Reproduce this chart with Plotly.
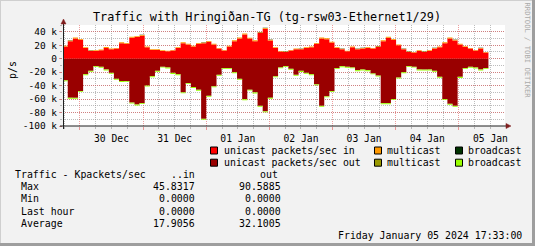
import pandas as pd
import plotly.graph_objects as go

# ---------------- data (k packets/sec, 117-minute samples) ----------------
sample_start = "2023-12-29 17:24"
sample_minutes = 117

in_unicast = [
    18, 26, 30, 28, 16, 11.5, 11.5, 12.5, 16, 14,
    15, 23, 22, 31, 32, 34, 17, 13, 13, 11.5,
    11, 12, 16, 23, 21, 18, 22, 23, 25, 21,
    15, 12, 18, 26, 30, 36, 30, 26, 38, 44.5,
    27, 16, 10.5, 10, 12, 14, 14, 16, 17, 22,
    30, 29, 24, 16, 14, 11, 17, 14, 15, 16,
    15, 17.5, 26, 31, 28, 20, 14, 10, 9, 11.5,
    10, 11.5, 15, 17, 23, 30, 27, 21, 17.5, 15,
    12, 15, 9,
]
in_multicast = [
    1.2, 1.0, 1.3, 1.1, 0.9, 0.8, 0.9, 1.0, 1.2, 1.0,
    0.9, 1.3, 1.1, 1.4, 1.2, 1.3, 1.0, 0.9, 0.8, 0.9,
    0.8, 0.9, 1.0, 1.3, 1.1, 1.0, 1.2, 1.1, 1.2, 1.0,
    0.9, 0.8, 1.0, 1.2, 1.3, 1.4, 1.1, 1.2, 1.3, 1.2,
    1.2, 1.0, 0.8, 0.8, 0.9, 1.0, 0.9, 1.0, 1.1, 1.2,
    1.3, 1.2, 1.1, 0.9, 0.9, 0.8, 1.0, 0.9, 1.0, 1.0,
    0.9, 1.1, 1.3, 1.4, 1.2, 1.0, 0.9, 0.8, 0.8, 0.9,
    0.8, 0.9, 1.0, 1.1, 1.2, 1.3, 1.2, 1.1, 1.0, 0.9,
    0.9, 1.0, 0.8,
]
in_broadcast = [
    0.1, 0.2, 0.1, 0.1, 0.1, 0.1, 0.1, 0.1, 0.2, 0.1,
    0.1, 0.1, 0.2, 0.1, 0.1, 0.2, 0.1, 0.1, 0.1, 0.1,
    0.1, 0.1, 0.1, 0.2, 0.1, 0.1, 0.1, 0.1, 0.2, 0.1,
    0.1, 0.1, 0.1, 0.1, 0.2, 0.1, 0.1, 0.1, 0.2, 0.1,
    0.1, 0.1, 0.1, 0.1, 0.1, 0.1, 0.2, 0.1, 0.1, 0.1,
    0.2, 0.1, 0.1, 0.1, 0.1, 0.1, 0.1, 0.1, 0.2, 0.1,
    0.1, 0.1, 0.1, 0.2, 0.1, 0.1, 0.1, 0.1, 0.1, 0.1,
    0.1, 0.1, 0.2, 0.1, 0.1, 0.1, 0.2, 0.1, 0.1, 0.1,
    0.1, 0.1, 0.1,
]
out_unicast = [
    32, 58, 58, 48, 23, 18, 11, 12, 16, 21,
    30, 33, 33, 65, 68, 66, 40, 26, 18, 12,
    13, 21, 23, 50, 36, 42, 46, 89.3, 55, 41,
    24, 14, 14, 20, 30, 60, 46, 50, 70, 78,
    58, 26, 13, 11, 15, 24, 18, 21, 23, 38,
    70, 56, 48, 14, 11, 12, 13, 17, 16, 17,
    22, 25, 66, 66, 60, 28, 20, 11, 12, 16,
    16, 16, 18, 27, 60, 67, 70, 27, 14, 12,
    13, 16, 14,
]
out_multicast = [
    0.3, 0.2, 0.3, 0.2, 0.3, 0.2, 0.2, 0.3, 0.2, 0.3,
    0.2, 0.3, 0.2, 0.3, 0.2, 0.3, 0.2, 0.2, 0.3, 0.2,
    0.3, 0.2, 0.3, 0.2, 0.3, 0.2, 0.3, 0.2, 0.3, 0.2,
    0.2, 0.3, 0.2, 0.3, 0.2, 0.3, 0.2, 0.3, 0.2, 0.3,
    0.2, 0.3, 0.2, 0.2, 0.3, 0.2, 0.3, 0.2, 0.3, 0.2,
    0.3, 0.2, 0.3, 0.2, 0.3, 0.2, 0.2, 0.3, 0.2, 0.3,
    0.2, 0.3, 0.2, 0.3, 0.2, 0.3, 0.2, 0.3, 0.2, 0.2,
    0.3, 0.2, 0.3, 0.2, 0.3, 0.2, 0.3, 0.2, 0.3, 0.2,
    0.3, 0.2, 0.3,
]
out_broadcast = [
    1.2, 1.4, 1.3, 1.1, 1.2, 1.3, 1.1, 1.2, 1.4, 1.2,
    1.1, 1.3, 1.2, 1.4, 1.3, 1.2, 1.1, 1.3, 1.2, 1.1,
    1.2, 1.4, 1.2, 1.3, 1.1, 1.2, 1.3, 1.1, 1.2, 1.4,
    1.3, 1.2, 1.1, 1.3, 1.2, 1.4, 1.2, 1.3, 1.1, 1.2,
    1.3, 1.2, 1.1, 1.2, 1.3, 1.2, 1.4, 1.1, 1.2, 1.3,
    1.2, 1.1, 1.3, 1.2, 1.4, 1.2, 1.1, 1.3, 1.2, 1.3,
    1.1, 1.2, 1.4, 1.3, 1.2, 1.1, 1.3, 1.2, 1.1, 1.2,
    1.4, 1.2, 1.3, 1.1, 1.2, 1.3, 1.2, 1.4, 1.1, 1.2,
    1.3, 1.2, 1.1,
]

y_tickvals = [-100, -80, -60, -40, -20, 0, 20, 40]
y_ticktext = ["-100 k", "-80 k", "-60 k", "-40 k", "-20 k", "0", "20 k", "40 k"]

legend_labels = ["unicast packets/sec in", "multicast", "broadcast",
                 "unicast packets/sec out", "multicast", "broadcast"]
colors = ["#FF0000", "#FF9900", "#003300", "#990000", "#999900", "#99FF00"]

stat_names = ["Max", "Min", "Last hour", "Average"]
stat_in = [45.8317, 0.0, 0.0, 17.9056]
stat_out = [90.5885, 0.0, 0.0, 32.1005]

title = "Traffic with Hringiðan-TG (tg-rsw03-Ethernet1/29)"
stamp = "Friday January 05 2024 17:33:00"
x_range = ["2023-12-29 17:33", "2024-01-05 17:33"]

# ---------------- layout geometry ----------------
W, H = 535, 246
L, R, T, B = 63, 505, 25, 126
MONO = "DejaVu Sans Mono"


def px(x):
    return (x - L) / (R - L)


def py(y):
    return (B - y) / (B - T)


times = list(pd.date_range(sample_start, periods=len(in_unicast), freq=f"{sample_minutes}min"))
xs = times + [times[-1] + pd.Timedelta(minutes=sample_minutes)]


def stepped(v):
    return list(v) + [v[-1]]


def cumulate(*series, sign=1):
    out, acc = [], [0.0] * len(series[0])
    for s in series:
        acc = [a + sign * b for a, b in zip(acc, s)]
        out.append(acc)
    return out


pos = cumulate(in_unicast, in_multicast, in_broadcast, sign=1)
neg = cumulate(out_unicast, out_multicast, out_broadcast, sign=-1)

fig = go.Figure()
for i, (ys, col) in enumerate(zip(pos + neg, colors)):
    fill = "tozeroy" if i in (0, 3) else "tonexty"
    fig.add_trace(go.Scatter(
        x=xs, y=stepped(ys), mode="lines",
        line=dict(width=0, shape="hv"),
        fill=fill, fillcolor=col, showlegend=False, hoverinfo="skip",
    ))

grid_minor = "rgba(143,143,143,0.6)"
grid_major = "rgba(222,79,79,0.55)"

fig.update_xaxes(
    type="date", range=x_range,
    tick0="2023-12-30", dtick=86400000, ticklabelmode="period",
    tickformat="%d %b", ticks="outside", ticklen=3, tickcolor=grid_major,
    showgrid=True, gridcolor=grid_major, griddash="1px,1px", gridwidth=1,
    minor=dict(dtick=6 * 3600 * 1000, tick0="2023-12-30", showgrid=True,
               gridcolor=grid_minor, griddash="1px,1px", ticks="outside",
               ticklen=2, tickcolor=grid_minor),
    showline=False, zeroline=False,
    tickfont=dict(family=MONO, size=9.7, color="black"),
)
fig.update_yaxes(
    range=[-100, 50], tickvals=y_tickvals, ticktext=y_ticktext,
    ticks="outside", ticklen=3, tickcolor=grid_major,
    showgrid=True, gridcolor=grid_major, griddash="1px,1px", gridwidth=1,
    minor=dict(dtick=10, tick0=0, showgrid=True, gridcolor=grid_minor,
               griddash="1px,1px", ticks="outside", ticklen=2, tickcolor=grid_minor),
    showline=False, zeroline=False,
    tickfont=dict(family=MONO, size=9.5, color="black"),
)

shapes = []
# frame (3d border)
shapes.append(dict(type="line", xref="paper", yref="paper", x0=px(0.5), x1=px(0.5), y0=py(0), y1=py(246), line=dict(color="#CFCFCF", width=1)))
shapes.append(dict(type="line", xref="paper", yref="paper", x0=px(0), x1=px(535), y0=py(0.5), y1=py(0.5), line=dict(color="#CFCFCF", width=1)))
shapes.append(dict(type="line", xref="paper", yref="paper", x0=px(533.5), x1=px(533.5), y0=py(0), y1=py(246), line=dict(color="#9E9E9E", width=3)))
shapes.append(dict(type="line", xref="paper", yref="paper", x0=px(0), x1=px(535), y0=py(244.5), y1=py(244.5), line=dict(color="#9E9E9E", width=3)))
# axes with arrows
axis_col = "#1F1F1F"
arrow_col = "#801F1F"
shapes.append(dict(type="line", xref="paper", yref="paper", x0=px(60), x1=px(507), y0=py(126), y1=py(126), line=dict(color=axis_col, width=1)))
shapes.append(dict(type="line", xref="paper", yref="paper", x0=px(63.5), x1=px(63.5), y0=py(129), y1=py(22), line=dict(color=axis_col, width=1)))
shapes.append(dict(type="path", xref="paper", yref="paper",
                   path=f"M {px(506)} {py(123.5)} L {px(511)} {py(126)} L {px(506)} {py(128.5)} Z",
                   fillcolor=arrow_col, line=dict(color=arrow_col, width=0.5)))
shapes.append(dict(type="path", xref="paper", yref="paper",
                   path=f"M {px(61)} {py(24)} L {px(63.5)} {py(19)} L {px(66)} {py(24)} Z",
                   fillcolor=arrow_col, line=dict(color=arrow_col, width=0.5)))

annotations = []


def text(x, y, s, size=9.9, xanchor="left", color="black", angle=0):
    annotations.append(dict(
        x=px(x), y=py(y), xref="paper", yref="paper", text=s, showarrow=False,
        xanchor=xanchor, yanchor="middle", textangle=angle,
        font=dict(family=MONO, size=size, color=color), borderpad=0, borderwidth=0,
    ))


text(266.5, 17.5, title, size=11.8, xanchor="center")
text(12, 70, "p/s", size=9.9, xanchor="center", angle=-90)
text(527.5, 50, "RRDTOOL / TOBI OETIKER", size=7.2, xanchor="center", color="#AAAAAA", angle=90)

# legend
col_box_x = [210.5, 374.5, 455.5]
col_text_x = [223.5, 387.3, 467.6]
row_y = [150.5, 162.7]
for i, (lab, col) in enumerate(zip(legend_labels, colors)):
    r, c = divmod(i, 3)
    bx, by = col_box_x[c], row_y[r]
    shapes.append(dict(type="rect", xref="paper", yref="paper",
                       x0=px(bx), x1=px(bx + 7), y0=py(by - 3.5), y1=py(by + 3.5),
                       fillcolor=col, line=dict(color="black", width=1)))
    text(col_text_x[c], by, lab)

# stats table
text(15.4, 174.5, "Traffic - Kpackets/sec")
text(194.5, 174.5, "..in", xanchor="right")
text(277.5, 174.5, "out", xanchor="right")
for j, name in enumerate(stat_names):
    yy = 186.6 + j * 12.3
    text(21.2, yy, name)
    text(194.8, yy, f"{stat_in[j]:.4f}", xanchor="right")
    text(280.8, yy, f"{stat_out[j]:.4f}", xanchor="right")

text(521.5, 235.8, stamp, xanchor="right")

fig.update_layout(
    width=W, height=H, autosize=False,
    margin=dict(l=L, r=W - R, t=T, b=H - B, pad=0),
    paper_bgcolor="#F2F2F2", plot_bgcolor="#FFFFFF",
    showlegend=False, shapes=shapes, annotations=annotations,
)

fig.write_html("out.html")
